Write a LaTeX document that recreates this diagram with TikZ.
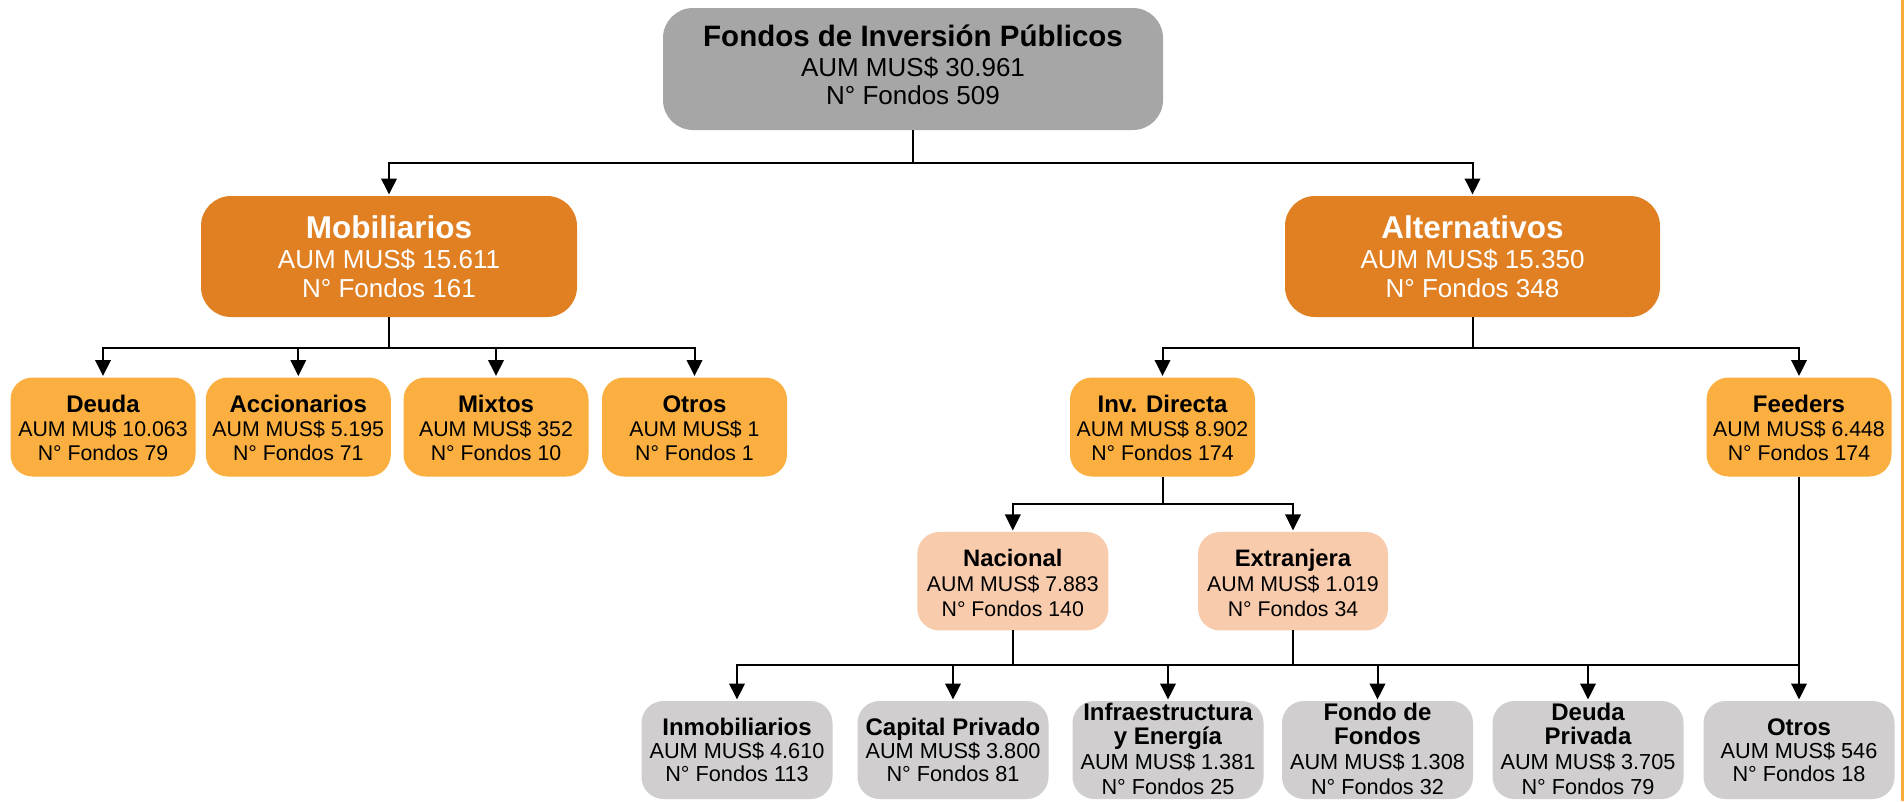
\documentclass[tikz,border=0pt]{standalone}
\usepackage{fontspec}
\setmainfont{Liberation Sans}
\usetikzlibrary{arrows.meta}
\definecolor{cgray}{HTML}{A6A6A6}
\definecolor{corange}{HTML}{E08023}
\definecolor{clight}{HTML}{FAAF40}
\definecolor{cpeach}{HTML}{F8CBAD}
\definecolor{cbot}{HTML}{D0CECE}
\definecolor{cedge}{HTML}{F7AC3A}
\newcommand\boxlines[2]{\vtop{\baselineskip=#1\relax\lineskiplimit=-1000pt\lineskip=0pt\halign{\hfil##\hfil\cr#2\crcr}}}
\newcommand\mkT[2]{{\bfseries\fontsize{#1}{#1}\selectfont #2}}
\newcommand\mkB[2]{{\fontsize{#1}{#1}\selectfont #2}}
\newcommand\Lzero[3]{\boxlines{28.5pt}{\mkT{29.5pt}{#1}\cr\noalign{\vskip1pt}\mkB{26pt}{#2}\cr\mkB{26pt}{#3}}}
\newcommand\Lone[3]{\boxlines{29pt}{\mkT{31.5pt}{#1}\cr\noalign{\vskip1pt}\mkB{26pt}{#2}\cr\mkB{26pt}{#3}}}
\newcommand\Lthree[3]{\boxlines{24pt}{\mkT{24pt}{#1}\cr\mkB{21.3pt}{#2}\cr\mkB{21.3pt}{#3}}}
\newcommand\Lnac[3]{\boxlines{25pt}{\mkT{23.8pt}{#1}\cr\mkB{21.3pt}{#2}\cr\mkB{21.3pt}{#3}}}
\newcommand\Lbot[3]{\boxlines{23pt}{\mkT{24pt}{#1}\cr\mkB{21.7pt}{#2}\cr\mkB{21.7pt}{#3}}}
\newcommand\Lbotf[4]{\boxlines{24.7pt}{\mkT{24pt}{#1}\cr\mkT{24pt}{#2}\cr\mkB{21.7pt}{#3}\cr\mkB{21.7pt}{#4}}}
\tikzset{
  bx/.style={inner sep=0pt, outer sep=0pt, text height=10pt},
  topbox/.style={bx, fill=cgray, rounded corners=30pt, minimum width=500pt, minimum height=122pt, text depth=55pt},
  lonebox/.style={bx, fill=corange, text=white, rounded corners=30pt, minimum width=376pt, minimum height=121pt, text depth=47pt},
  lthreebox/.style={bx, fill=clight, rounded corners=22pt, minimum width=185pt, minimum height=99pt, text depth=38.6pt},
  nacbox/.style={bx, fill=cpeach, rounded corners=22pt, minimum width=191pt, minimum height=98.5pt, text depth=39.8pt},
  botbox/.style={bx, fill=cbot, rounded corners=22pt, minimum width=191pt, minimum height=98pt, text depth=39pt},
  botboxf/.style={botbox, text depth=70pt},
  conn/.style={line width=2pt, draw=black},
  arr/.style={conn, -{Triangle[length=16pt,width=15.5pt]}, shorten >=1.5pt},
}
\begin{document}
\begin{tikzpicture}[x=1pt,y=-1pt]
\useasboundingbox (0,0) rectangle (1904,801);
\fill[white] (0,0) rectangle (1904,801);
% nodes
\node[topbox] (top) at (913,69) {\Lzero{Fondos de Inversión Públicos}{AUM MUS\$ 30.961}{N° Fondos 509}};
\node[lonebox] (mob) at (389,256.5) {\Lone{Mobiliarios}{AUM MUS\$ 15.611}{N° Fondos 161}};
\node[lonebox, minimum width=375pt] (alt) at (1472.5,256.5) {\Lone{Alternativos}{AUM MUS\$ 15.350}{N° Fondos 348}};
\node[lthreebox] (deu) at (103,427) {\Lthree{Deuda}{AUM MU\$ 10.063}{N° Fondos 79}};
\node[lthreebox] (acc) at (298.3,427) {\Lthree{Accionarios}{AUM MUS\$ 5.195}{N° Fondos 71}};
\node[lthreebox] (mix) at (496,427) {\Lthree{Mixtos}{AUM MUS\$ 352}{N° Fondos 10}};
\node[lthreebox] (otr) at (694.5,427) {\Lthree{Otros}{AUM MUS\$ 1}{N° Fondos 1}};
\node[lthreebox] (inv) at (1162.5,427) {\Lthree{Inv. Directa}{AUM MUS\$ 8.902}{N° Fondos 174}};
\node[lthreebox] (feed) at (1799,427) {\Lthree{Feeders}{AUM MUS\$ 6.448}{N° Fondos 174}};
\node[nacbox] (nac) at (1012.8,581.2) {\Lnac{Nacional}{AUM MUS\$ 7.883}{N° Fondos 140}};
\node[nacbox, minimum width=190pt] (ext) at (1293,581.2) {\Lnac{Extranjera}{AUM MUS\$ 1.019}{N° Fondos 34}};
\node[botbox] (inmo) at (737,750) {\Lbot{Inmobiliarios}{AUM MUS\$ 4.610}{N° Fondos 113}};
\node[botbox] (cap) at (953,750) {\Lbot{Capital Privado}{AUM MUS\$ 3.800}{N° Fondos 81}};
\node[botboxf] (infra) at (1168,750) {\Lbotf{Infraestructura}{y Energía}{AUM MUS\$ 1.381}{N° Fondos 25}};
\node[botboxf] (fdf) at (1377.5,750) {\Lbotf{Fondo de}{Fondos}{AUM MUS\$ 1.308}{N° Fondos 32}};
\node[botboxf] (dp) at (1588,750) {\Lbotf{Deuda}{Privada}{AUM MUS\$ 3.705}{N° Fondos 79}};
\node[botbox] (otb) at (1799,750) {\Lbot{Otros}{AUM MUS\$ 546}{N° Fondos 18}};
% junctions
\coordinate (j1) at (913,163);
\coordinate (j2) at (389,347.5);
\coordinate (j3) at (1472.5,347.5);
\coordinate (j4) at (1162.5,504);
\coordinate (b1) at (1012.8,665);
\coordinate (b2) at (1293,665);
% connectors
\draw[conn] (top.south) -- (j1);
\draw[arr] (j1) -| (mob.north);
\draw[arr] (j1) -| (alt.north);
\draw[conn] (mob.south) -- (j2);
\draw[arr] (j2) -| (deu.north);
\draw[arr] (j2) -| (acc.north);
\draw[arr] (j2) -| (mix.north);
\draw[arr] (j2) -| (otr.north);
\draw[conn] (alt.south) -- (j3);
\draw[arr] (j3) -| (inv.north);
\draw[arr] (j3) -| (feed.north);
\draw[conn] (inv.south) -- (j4);
\draw[arr] (j4) -| (nac.north);
\draw[arr] (j4) -| (ext.north);
\draw[conn] (nac.south) -- (b1);
\draw[conn] (ext.south) -- (b2);
\draw[conn] (b1) -- (b2);
\draw[arr] (b1) -| (inmo.north);
\draw[arr] (b1) -| (cap.north);
\draw[arr] (b1) -| (infra.north);
\draw[arr] (b2) -| (fdf.north);
\draw[arr] (b2) -| (dp.north);
\draw[conn] (b2) -- (feed.south |- b2);
\draw[arr] (feed.south) -- (otb.north);
% right edge line
\draw[line width=2.5pt, cedge] (1902.5,0) -- (1902.5,801);
\end{tikzpicture}
\end{document}
